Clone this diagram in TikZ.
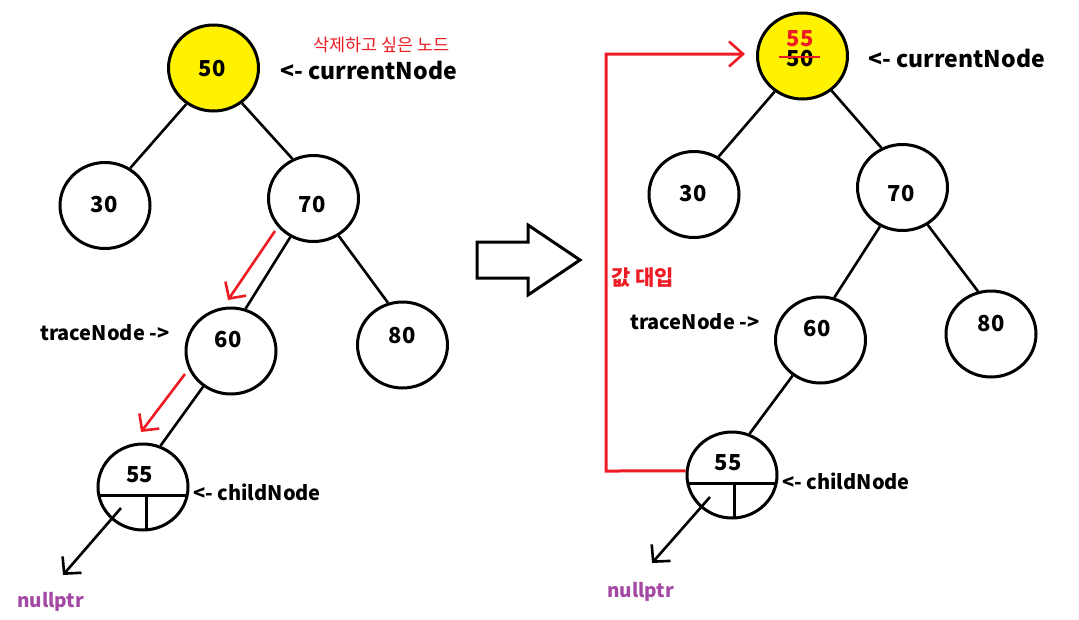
\documentclass[tikz,border=0pt]{standalone}
\usepackage{fontspec}
\setmainfont{Noto Sans CJK KR}
\usetikzlibrary{arrows.meta,calc,shapes.geometric}
\definecolor{pred}{HTML}{ED1C24}
\definecolor{pyellow}{HTML}{FFF200}
\definecolor{ppurple}{HTML}{A349A4}
\begin{document}
\begin{tikzpicture}[x=1pt,y=-1pt,
  tnode/.style={ellipse,draw,line width=3pt,minimum width=90pt,minimum height=86pt,inner sep=0pt},
  edge/.style={line width=2.6pt},
  num/.style={font=\bfseries\fontsize{22}{22}\selectfont,inner sep=0pt},
  lbl/.style={font=\bfseries\fontsize{20}{20}\selectfont,inner sep=0pt,anchor=west},
  biglbl/.style={font=\bfseries\fontsize{23}{23}\selectfont,inner sep=0pt,anchor=west},
  nulllbl/.style={font=\bfseries\fontsize{19}{19}\selectfont,inner sep=0pt,anchor=west,text=ppurple},
  barb/.style={-{Straight Barb[length=12pt,width=25pt,line width=2.6pt]}},
  redarrow/.style={pred,line width=2.6pt,barb},
  blackarrow/.style={black,line width=2.6pt,barb}]
\useasboundingbox (0,0) rectangle (1079,619);
% ---------------- left tree ----------------
\node[tnode,fill=pyellow] (n50) at (213.5,68) {};
\node[tnode] (n30) at (105,205.5) {};
\node[tnode] (n70) at (313.5,198.5) {};
\node[tnode] (n60) at (231,351) {};
\node[tnode] (n80) at (402.5,345) {};
\node[tnode] (n55) at (143,487) {};
\node[num] (t50) at (212,69) {50};
\node[num] (t30) at (104,205) {30};
\node[num] (t70) at (312,205) {70};
\node[num] (t60) at (228,340) {60};
\node[num] (t80) at (402,336) {80};
\node[num] (t55) at (139.5,475) {55};
\draw[edge] (n50.233) -- (n30.56);
\draw[edge] (n50.309.5) -- (n70.118.5);
\draw[edge] (n70.239) -- (n60.71);
\draw[edge] (n70.304) -- (n80.109);
\draw[edge] (n60.232.6) -- (n55.67);
\coordinate (h1a) at ($(n55.center)+(-44.2,8)$);
\coordinate (h1b) at ($(n55.center)+(44.2,8)$);
\coordinate (v1a) at ($(n55.center)+(3,8)$);
\coordinate (v1b) at ($(n55.center)+(3,43)$);
\draw[line width=3pt] (h1a) -- (h1b);
\draw[line width=3pt] (v1a) -- (v1b);
\coordinate (a1s) at ($(n55.center)+(-22,21)$);
\coordinate (null1tip) at (63,575);
\draw[blackarrow] (a1s) -- (null1tip);
\coordinate (r1s) at (275,231);
\coordinate (r1e) at (228,300);
\coordinate (r2s) at (185,374);
\coordinate (r2e) at (141,432);
\draw[redarrow] (r1s) -- (r1e);
\draw[redarrow] (r2s) -- (r2e);
\node[biglbl] (cur1) at (280,70) {<- currentNode};
\node[font=\fontsize{17.5}{18}\selectfont,text=pred,inner sep=0pt,anchor=west] (kor) at (313,45) {삭제하고 싶은 노드};
\node[lbl] (trace1) at (40,333) {traceNode ->};
\node[lbl] (child1) at (193,492) {<- childNode};
\node[nulllbl] (null1) at (17,602) {nullptr};
% ---------------- big arrow ----------------
\draw[line width=3pt,line join=miter] (477,242) -- (528,242) -- (528,225) -- (580,260) -- (528,295) -- (528,278) -- (477,278) -- cycle;
% ---------------- right tree ----------------
\node[tnode,fill=pyellow] (m50) at (802.5,56) {};
\node[tnode] (m30) at (694,194.5) {};
\node[tnode] (m70) at (902.5,187.5) {};
\node[tnode] (m60) at (820.5,340) {};
\node[tnode] (m80) at (991,334) {};
\node[tnode] (m55) at (732,475) {};
\node[num] (s50) at (800,59) {50};
\node[num,text=pred] (s55) at (800,38.5) {55};
\coordinate (st1) at (779,57);
\coordinate (st2) at (820,57);
\draw[pred,line width=2.6pt] (st1) -- (st2);
\node[num] (s30) at (693,194) {30};
\node[num] (s70) at (901,194) {70};
\node[num] (s60) at (817,329) {60};
\node[num] (s80) at (991,324) {80};
\node[num] (s55b) at (728,463) {55};
\draw[edge] (m50.232) -- (m30.57);
\draw[edge] (m50.310) -- (m70.118.5);
\draw[edge] (m70.240) -- (m60.72.5);
\draw[edge] (m70.304) -- (m80.107);
\draw[edge] (m60.232) -- (m55.67);
\coordinate (h2a) at ($(m55.center)+(-44.2,8)$);
\coordinate (h2b) at ($(m55.center)+(44.2,8)$);
\coordinate (v2a) at ($(m55.center)+(2,8)$);
\coordinate (v2b) at ($(m55.center)+(2,43)$);
\draw[line width=3pt] (h2a) -- (h2b);
\draw[line width=3pt] (v2a) -- (v2b);
\coordinate (a2s) at ($(m55.center)+(-22,22)$);
\coordinate (null2tip) at (652,563);
\draw[blackarrow] (a2s) -- (null2tip);
\coordinate (rc1) at (606,471);
\coordinate (rc2) at (606,54);
\coordinate (rtip) at (745,54);
\draw[pred,line width=3pt,line join=miter,-{Straight Barb[length=14pt,width=25pt,line width=2.6pt]}] (m55.175) -- (rc1) -- (rc2) -- (rtip);
\node[biglbl] (cur2) at (868,58) {<- currentNode};
\node[font=\bfseries\fontsize{21}{21}\selectfont,text=pred,inner sep=0pt,anchor=west] (val) at (611,278) {값 대입};
\node[lbl] (trace2) at (630,322) {traceNode ->};
\node[lbl] (child2) at (782,481) {<- childNode};
\node[nulllbl] (null2) at (607,592) {nullptr};
\end{tikzpicture}
\end{document}
